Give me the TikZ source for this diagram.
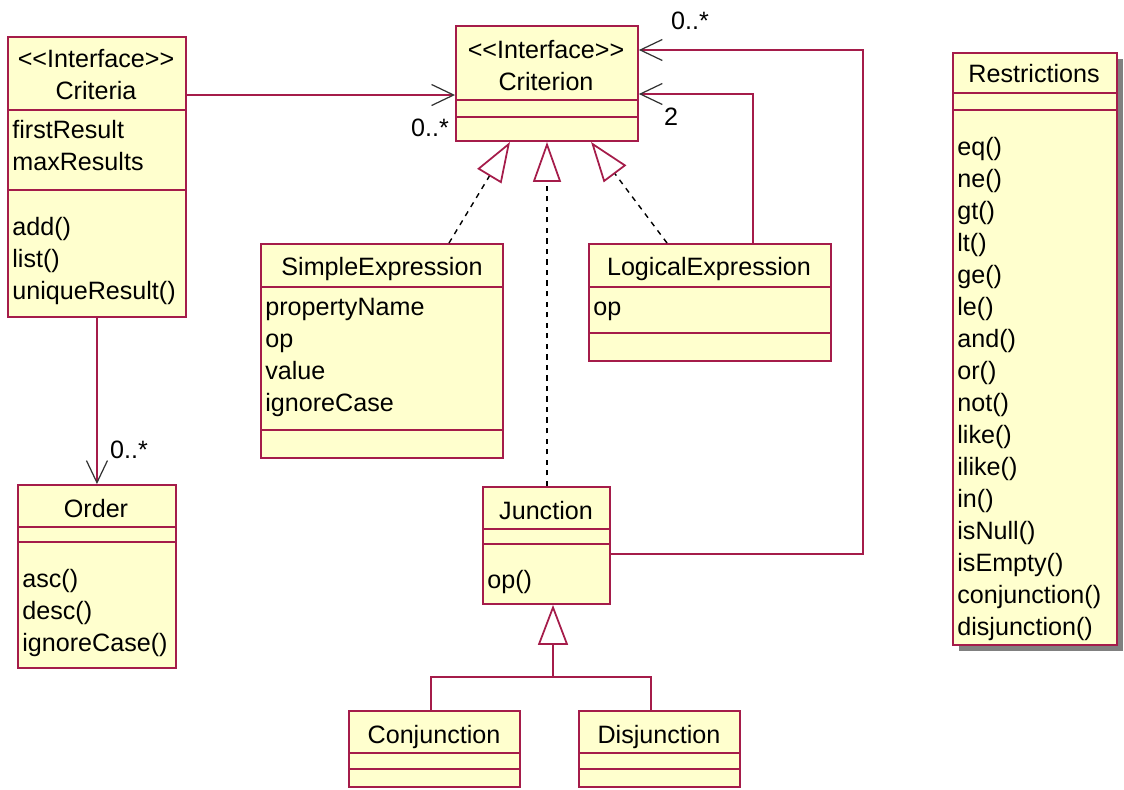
\documentclass[tikz,border=0pt]{standalone}
\usepackage{fontspec}
\setmainfont{Liberation Sans}
\usetikzlibrary{arrows.meta, shadows}

\definecolor{umlborder}{RGB}{165,28,74}
\definecolor{umlfill}{RGB}{255,255,206}
\definecolor{umlshadow}{RGB}{128,128,128}
\newcommand{\umlfont}{\fontsize{14.3}{18.2}\selectfont}
\newcommand{\clsstrut}{\rule{0pt}{0.4cm}}

\tikzstyle{classbox} = [rectangle, draw=umlborder, fill=umlfill, line width=1.1pt, inner sep=0pt, anchor=north west]
\tikzstyle{compart} = [draw=umlborder, line width=1.1pt]
\tikzstyle{clsname} = [anchor=north, align=center, inner sep=0pt, font=\umlfont]
\tikzstyle{members} = [anchor=north west, align=left, inner sep=0pt, font=\umlfont]
\tikzstyle{mult} = [inner sep=0pt, font=\umlfont]
\tikzstyle{link} = [draw=umlborder, line width=1pt]
\tikzstyle{assoc} = [link, -{Straight Barb[length=0.44cm, width=0.42cm, color=black!80, line width=0.7pt]}]
\tikzstyle{realize} = [draw=black, line width=0.8pt, dash pattern=on 3pt off 3pt, -{Triangle[open, length=0.8cm, width=0.56cm, color=umlborder, line width=1pt]}]
\tikzstyle{generalize} = [link, -{Triangle[open, length=0.8cm, width=0.6cm, color=umlborder, line width=1pt]}]

\begin{document}
\begin{tikzpicture}[x=0.02cm, y=-0.02cm]
    \useasboundingbox (0,0) rectangle (1124,789);

    % Class boxes
    \node[classbox, minimum width=3.56cm, minimum height=5.6cm] (criteria) at (7,36) {};
    \node[classbox, minimum width=3.64cm, minimum height=2.3cm] (criterion) at (455,25) {};
    \node[classbox, minimum width=4.84cm, minimum height=4.28cm] (simple) at (260,243) {};
    \node[classbox, minimum width=4.84cm, minimum height=2.34cm] (logical) at (588,243) {};
    \node[classbox, minimum width=2.54cm, minimum height=2.34cm] (junction) at (482,486) {};
    \node[classbox, minimum width=3.16cm, minimum height=3.66cm] (order) at (17,484) {};
    \node[classbox, minimum width=3.42cm, minimum height=1.52cm] (conj) at (348,710) {};
    \node[classbox, minimum width=3.22cm, minimum height=1.52cm] (disj) at (578,710) {};
    \node[classbox, minimum width=3.28cm, minimum height=11.84cm,
          drop shadow={shadow xshift=0.13cm, shadow yshift=-0.13cm, fill=umlshadow, opacity=1}] (restrictions) at (952,52) {};

    % Compartments
    \draw[compart] (criteria.west |- 0,110) -- (criteria.east |- 0,110);
    \draw[compart] (criteria.west |- 0,190) -- (criteria.east |- 0,190);
    \draw[compart] (criterion.west |- 0,100) -- (criterion.east |- 0,100);
    \draw[compart] (criterion.west |- 0,117) -- (criterion.east |- 0,117);
    \draw[compart] (simple.west |- 0,287) -- (simple.east |- 0,287);
    \draw[compart] (simple.west |- 0,430) -- (simple.east |- 0,430);
    \draw[compart] (logical.west |- 0,287) -- (logical.east |- 0,287);
    \draw[compart] (logical.west |- 0,333) -- (logical.east |- 0,333);
    \draw[compart] (junction.west |- 0,529) -- (junction.east |- 0,529);
    \draw[compart] (junction.west |- 0,544) -- (junction.east |- 0,544);
    \draw[compart] (order.west |- 0,527) -- (order.east |- 0,527);
    \draw[compart] (order.west |- 0,542) -- (order.east |- 0,542);
    \draw[compart] (conj.west |- 0,753) -- (conj.east |- 0,753);
    \draw[compart] (conj.west |- 0,769) -- (conj.east |- 0,769);
    \draw[compart] (disj.west |- 0,753) -- (disj.east |- 0,753);
    \draw[compart] (disj.west |- 0,769) -- (disj.east |- 0,769);
    \draw[compart] (restrictions.west |- 0,93) -- (restrictions.east |- 0,93);
    \draw[compart] (restrictions.west |- 0,110) -- (restrictions.east |- 0,110);

    % Texts
    \node[clsname] (criteria-name) at (96,47) {\clsstrut<{}<Interface>{}>\\Criteria};
    \node[members] (criteria-attr) at (12,118) {\clsstrut firstResult\\maxResults};
    \node[members] (criteria-ops) at (12,215) {\clsstrut add()\\list()\\uniqueResult()};
    \node[clsname] (criterion-name) at (546,38) {\clsstrut<{}<Interface>{}>\\Criterion};
    \node[clsname] (simple-name) at (382,255) {\clsstrut SimpleExpression};
    \node[members] (simple-attr) at (265,295) {\clsstrut propertyName\\op\\value\\ignoreCase};
    \node[clsname] (logical-name) at (709,255) {\clsstrut LogicalExpression};
    \node[members] (logical-attr) at (593,295) {\clsstrut op};
    \node[clsname] (junction-name) at (546,499) {\clsstrut Junction};
    \node[members] (junction-ops) at (487,568) {\clsstrut op()};
    \node[clsname] (order-name) at (96,497) {\clsstrut Order};
    \node[members] (order-ops) at (22,567) {\clsstrut asc()\\desc()\\ignoreCase()};
    \node[clsname] (conj-name) at (434,723) {\clsstrut Conjunction};
    \node[clsname] (disj-name) at (659,723) {\clsstrut Disjunction};
    \node[clsname] (restrictions-name) at (1034,62) {\clsstrut Restrictions};
    \node[members] (restrictions-ops) at (957,135) {\clsstrut eq()\\ne()\\gt()\\lt()\\ge()\\le()\\and()\\or()\\not()\\like()\\ilike()\\in()\\isNull()\\isEmpty()\\conjunction()\\disjunction()};

    % Arrows
    \coordinate (loop-right) at (863,50);
    \coordinate (loop-logic) at (753,94);
    \coordinate (gen-join) at (553,677);
    \draw[assoc] (criteria.east |- 0,95) -- (criterion.west |- 0,95);
    \draw[assoc] (junction.east |- 0,554) -| (loop-right) -- (criterion.east |- loop-right);
    \draw[assoc] (logical.north -| loop-logic) |- (criterion.east |- loop-logic);
    \draw[assoc] (criteria.south) -- (order.north);
    \draw[realize] (simple.north -| 449,0) -- (criterion.south -| 510,0);
    \draw[realize] (junction.north -| 547,0) -- (criterion.south -| 547,0);
    \draw[realize] (logical.north -| 667,0) -- (criterion.south -| 591,0);
    \draw[link] (conj.north -| 431,0) |- (gen-join) -| (disj.north -| 651,0);
    \draw[generalize] (gen-join) -- (junction.south -| gen-join);

    % Multiplicities
    \node[mult] (m-criteria) at (430,128) {0..*};
    \node[mult] (m-junction) at (690,21) {0..*};
    \node[mult] (m-logical) at (671,117) {2};
    \node[mult] (m-order) at (129,450) {0..*};
\end{tikzpicture}
\end{document}
